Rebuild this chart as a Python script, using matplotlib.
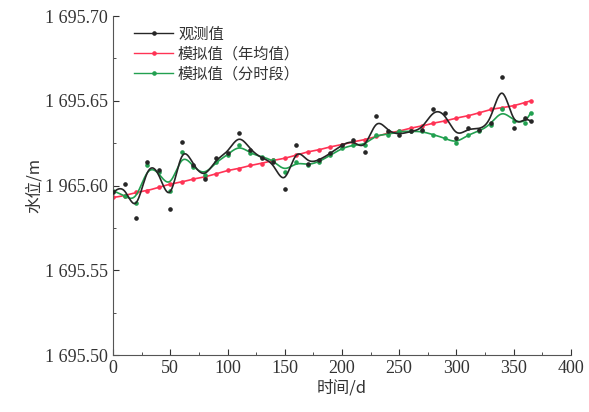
import numpy as np
import matplotlib
matplotlib.use("Agg")
import matplotlib.pyplot as plt
from matplotlib.ticker import FixedLocator, FixedFormatter, MultipleLocator

# ---- data ----
days = list(range(0, 370, 10)) + [365]
observed = [1695.596, 1695.601, 1695.581, 1695.614, 1695.609, 1695.586, 1695.626,
            1695.612, 1695.604, 1695.616, 1695.619, 1695.631, 1695.621, 1695.616,
            1695.614, 1695.598, 1695.624, 1695.613, 1695.615, 1695.619, 1695.624,
            1695.627, 1695.620, 1695.641, 1695.632, 1695.630, 1695.632, 1695.633,
            1695.645, 1695.643, 1695.628, 1695.634, 1695.633, 1695.637, 1695.664,
            1695.634, 1695.640, 1695.638]
sim_annual = [1695.593, 1695.594, 1695.596, 1695.597, 1695.599, 1695.601, 1695.602,
              1695.604, 1695.605, 1695.607, 1695.609, 1695.610, 1695.612, 1695.613,
              1695.615, 1695.616, 1695.618, 1695.620, 1695.621, 1695.623, 1695.624,
              1695.626, 1695.627, 1695.629, 1695.631, 1695.632, 1695.634, 1695.635,
              1695.637, 1695.638, 1695.640, 1695.641, 1695.643, 1695.645, 1695.646,
              1695.647, 1695.649, 1695.650]
sim_period = [1695.597, 1695.594, 1695.590, 1695.612, 1695.608, 1695.597, 1695.620,
              1695.611, 1695.606, 1695.614, 1695.618, 1695.624, 1695.619, 1695.617,
              1695.615, 1695.608, 1695.614, 1695.612, 1695.614, 1695.618, 1695.622,
              1695.624, 1695.624, 1695.630, 1695.630, 1695.632, 1695.632, 1695.632,
              1695.630, 1695.628, 1695.625, 1695.630, 1695.632, 1695.636, 1695.645,
              1695.638, 1695.637, 1695.643]
series_labels = ["观测值", "模拟值（年均值）", "模拟值（分时段）"]
ytick_values = [1695.50, 1695.55, 1695.60, 1695.65, 1695.70]
ytick_labels = ["1 695.50", "1 695.55", "1 965.60", "1 695.65", "1 695.70"]
xtick_values = [0, 50, 100, 150, 200, 250, 300, 350, 400]


def bspline(x, y, n=20):
    """Uniform cubic B-spline (approximating) using the data as control points."""
    px = np.concatenate([[x[0]] * 2, x, [x[-1]] * 2]).astype(float)
    py = np.concatenate([[y[0]] * 2, y, [y[-1]] * 2]).astype(float)
    t = np.linspace(0, 1, n, endpoint=False)
    b0 = (1 - t) ** 3 / 6
    b1 = (3 * t ** 3 - 6 * t ** 2 + 4) / 6
    b2 = (-3 * t ** 3 + 3 * t ** 2 + 3 * t + 1) / 6
    b3 = t ** 3 / 6
    ox, oy = [], []
    for i in range(len(px) - 3):
        ox.append(b0 * px[i] + b1 * px[i + 1] + b2 * px[i + 2] + b3 * px[i + 3])
        oy.append(b0 * py[i] + b1 * py[i + 1] + b2 * py[i + 2] + b3 * py[i + 3])
    ox.append([px[-1]])
    oy.append([py[-1]])
    return np.concatenate(ox), np.concatenate(oy)


plt.rcParams['font.family'] = ['Liberation Serif', 'Noto Sans CJK SC', 'DejaVu Sans']

fig = plt.figure(figsize=(5.89, 4.12), dpi=100)
ax = fig.add_axes([0.192, 0.138, 0.777, 0.823])

styles = [
    (observed, "#262626", series_labels[0], 3),
    (sim_annual, "#ff3355", series_labels[1], 1),
    (sim_period, "#22a050", series_labels[2], 2),
]
x_arr = np.array(days, dtype=float)
for vals, color, label, z in styles:
    sx, sy = bspline(x_arr, np.array(vals))
    ax.plot(sx, sy, color=color, lw=1.2, zorder=z)
    ax.plot(x_arr, vals, linestyle='none', marker='o', ms=2.3, color=color, zorder=z + 0.5)
    ax.plot([], [], color=color, lw=1.0, marker='o', ms=2.3, label=label)

ax.set_xlim(0, 400)
ax.set_ylim(1695.50, 1695.70)
ax.xaxis.set_major_locator(FixedLocator(xtick_values))
ax.xaxis.set_minor_locator(MultipleLocator(25))
ax.yaxis.set_major_locator(FixedLocator(ytick_values))
ax.yaxis.set_major_formatter(FixedFormatter(ytick_labels))
ax.yaxis.set_minor_locator(MultipleLocator(0.025))
ax.tick_params(which='both', direction='in', labelsize=13, colors='#333333')
ax.tick_params(which='major', length=4)
ax.tick_params(which='minor', length=2)
for s in ['top', 'right']:
    ax.spines[s].set_visible(False)
for s in ['left', 'bottom']:
    ax.spines[s].set_color('#555555')

ax.set_xlabel("时间/d", fontsize=12, color='#333333', labelpad=2,
              family=['Noto Sans CJK SC', 'DejaVu Sans'])
ax.set_ylabel("水位/m", fontsize=12, color='#333333', labelpad=2,
              family=['Noto Sans CJK SC', 'DejaVu Sans'])

leg = ax.legend(loc='upper left', bbox_to_anchor=(0.025, 1.0), frameon=False,
                prop={'family': ['Noto Sans CJK SC', 'DejaVu Sans'], 'size': 11},
                handlelength=2.6, handletextpad=0.3, labelspacing=0.2, borderaxespad=0.2)
for t in leg.get_texts():
    t.set_color('#333333')

fig.savefig("out.png", dpi=100)
